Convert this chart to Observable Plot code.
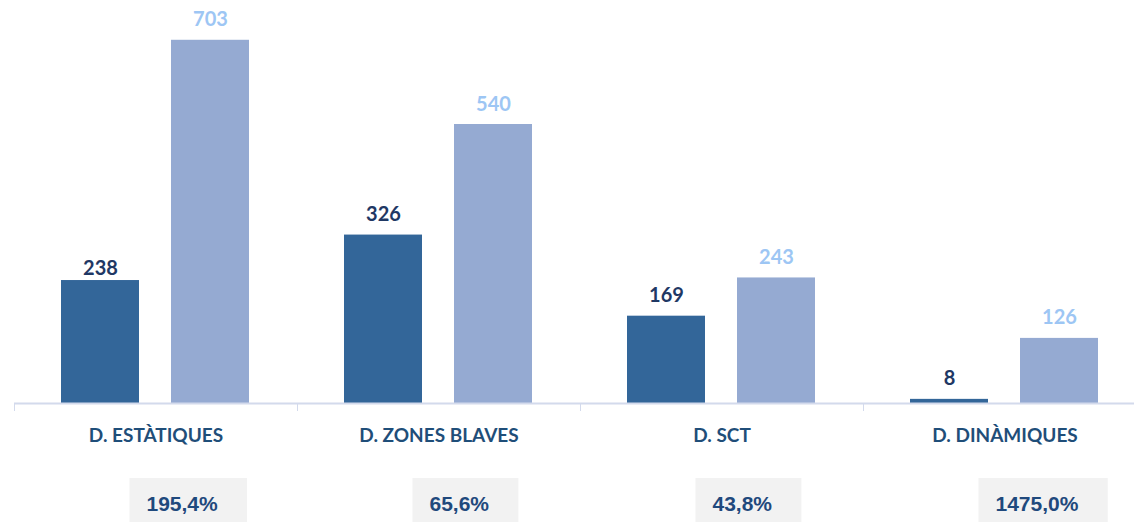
<!DOCTYPE html>
<html>
<head>
<meta charset="utf-8">
<script src="https://cdn.jsdelivr.net/npm/d3@7"></script>
<script src="https://cdn.jsdelivr.net/npm/@observablehq/plot@0.6"></script>
<style>
  html, body { margin: 0; padding: 0; background: #fff; }
  #chart { width: 1134px; height: 522px; overflow: hidden; }
  #chart svg { max-width: none !important; }
</style>
</head>
<body>
<div id="chart"></div>
<script>
const categories = ["D. ESTÀTIQUES", "D. ZONES BLAVES", "D. SCT", "D. DINÀMIQUES"];
const seriesNames = ["Anterior", "Actual"];
const valuesAnterior = [238, 326, 169, 8];
const valuesActual = [703, 540, 243, 126];
const pctLabels = ["195,4%", "65,6%", "43,8%", "1475,0%"];

const data = [];
categories.forEach((c, i) => {
  data.push({cat: c, serie: seriesNames[0], value: valuesAnterior[i]});
  data.push({cat: c, serie: seriesNames[1], value: valuesActual[i]});
});
const pctData = categories.map((c, i) => ({cat: c, label: pctLabels[i]}));

const barColors = ["#336699", "#95AAD2"];
const labelColors = ["#1F3864", "#9DC6F4"];
const axisColor = "#D3DAEC";

// the first dark label sits closer to its bar in the original
const isTight = d => d.cat === categories[0] && d.serie === seriesNames[0];
const valueLabel = (filter, dy) => Plot.text(data, {
  filter, fx: "cat", x: "serie", y: "value", text: d => String(d.value),
  fill: d => labelColors[seriesNames.indexOf(d.serie)],
  lineAnchor: "bottom", dy, fontSize: 20, fontWeight: "bold"
});

const plot = Plot.plot({
  width: 1148,
  height: 522,
  marginLeft: 12,
  marginRight: 1,
  marginTop: 0,
  marginBottom: 119,
  style: {fontFamily: "Lato, sans-serif", background: "#fff", overflow: "visible", maxWidth: "none"},
  fx: {domain: categories, padding: 0, axis: null},
  x: {domain: seriesNames, paddingInner: 0.29, paddingOuter: 0.43, axis: null},
  y: {domain: [0, 780], axis: null},
  color: {domain: seriesNames, range: barColors},
  marks: [
    Plot.barY(data, {fx: "cat", x: "serie", y: "value", fill: "serie"}),
    Plot.ruleY([0], {stroke: axisColor, strokeWidth: 2}),
    Plot.frame({anchor: "left", stroke: axisColor, strokeWidth: 1, insetTop: 403, insetBottom: -7}),
    valueLabel(d => !isTight(d), -14),
    valueLabel(isTight, -6),
    Plot.text(categories, {
      fx: d => d, text: d => d, frameAnchor: "bottom", dy: 32,
      lineAnchor: "middle", fill: "#1F4E79", fontSize: 19, fontWeight: "bold"
    }),
    Plot.text(pctData, {
      fx: "cat", text: "label", frameAnchor: "bottom-left", dx: 132, dy: 101,
      textAnchor: "start", lineAnchor: "middle", fill: "#1F497D",
      fontSize: 21, fontWeight: "bold", fontFamily: "Liberation Sans, Arial, sans-serif"
    })
  ]
});

document.getElementById("chart").appendChild(plot);

// grey boxes behind the percentage labels
const svgNode = plot.tagName.toLowerCase() === "svg" ? plot : plot.querySelector("svg");
const svgRect = svgNode.getBoundingClientRect();
const pctTexts = Array.from(svgNode.querySelectorAll("text")).filter(t => pctLabels.includes(t.textContent));
if (pctTexts.length) {
  const markGroup = pctTexts[0].closest("svg > g") || svgNode;
  const boxLayer = document.createElementNS("http://www.w3.org/2000/svg", "g");
  pctTexts.forEach(t => {
    const r = t.getBoundingClientRect();
    const rect = document.createElementNS("http://www.w3.org/2000/svg", "rect");
    rect.setAttribute("x", r.left - svgRect.left - 17);
    rect.setAttribute("y", 478);
    rect.setAttribute("width", r.width + 46);
    rect.setAttribute("height", 50);
    rect.setAttribute("fill", "#F2F2F2");
    boxLayer.appendChild(rect);
  });
  if (markGroup !== svgNode) svgNode.insertBefore(boxLayer, markGroup);
  else svgNode.insertBefore(boxLayer, svgNode.firstChild);
}
</script>
</body>
</html>
